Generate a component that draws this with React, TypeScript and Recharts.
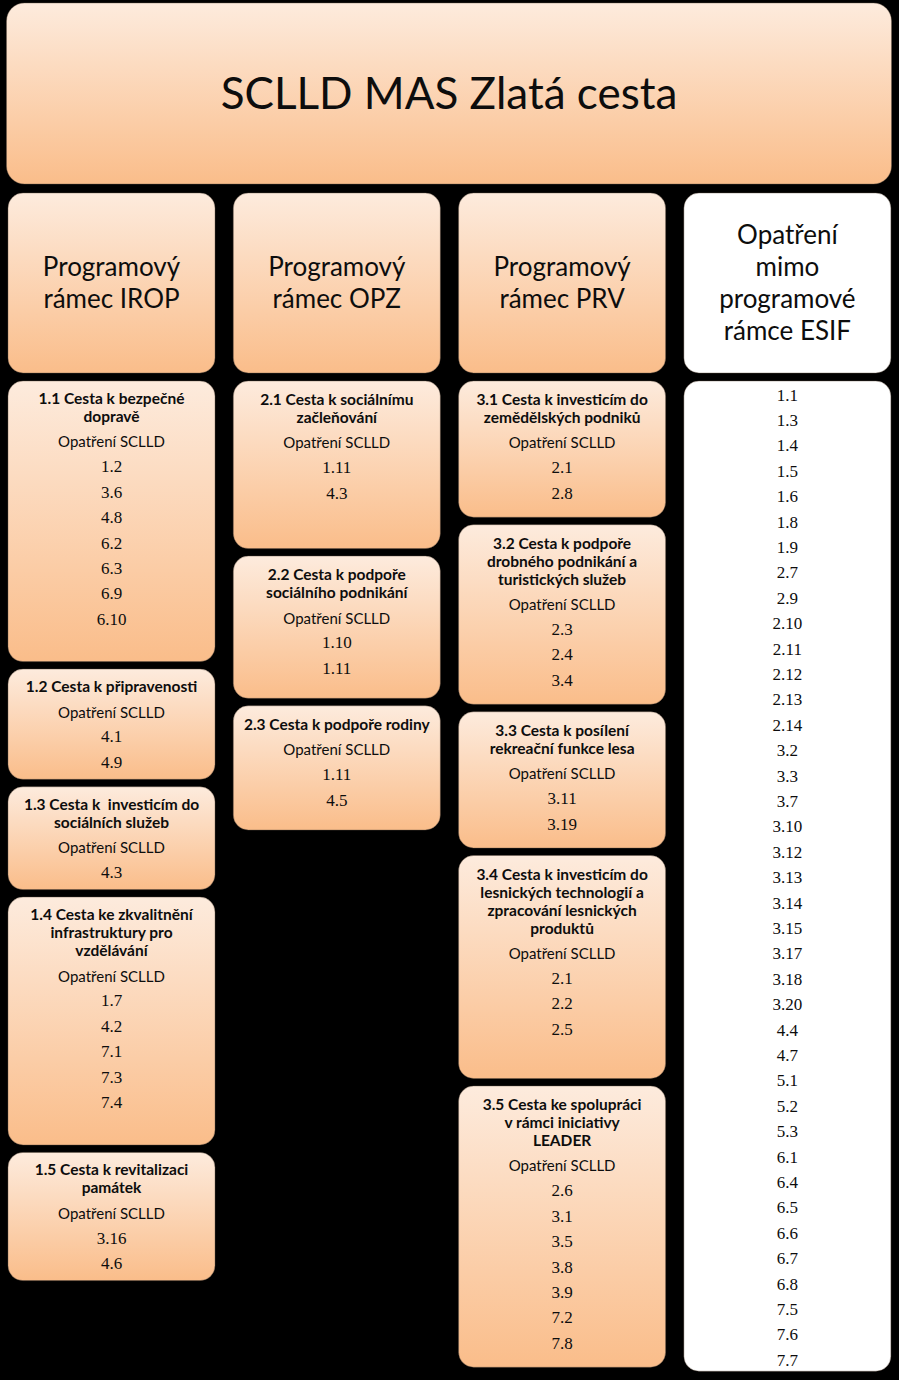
import { ScatterChart, Scatter, XAxis, YAxis } from "recharts";

const W = 899;
const H = 1380;

// --- text content ---
const chartTitle = "SCLLD MAS Zlatá cesta";

const frameworkHeaders = [
  ["Programový", "rámec IROP"],
  ["Programový", "rámec OPZ"],
  ["Programový", "rámec PRV"],
  ["Opatření", "mimo", "programové", "rámce ESIF"],
];

const measureLabel = "Opatření SCLLD";

const iropTitles = [
  ["1.1 Cesta k bezpečné", "dopravě"],
  ["1.2 Cesta k připravenosti"],
  ["1.3 Cesta k  investicím do", "sociálních služeb"],
  ["1.4 Cesta ke zkvalitnění", "infrastruktury pro", "vzdělávání"],
  ["1.5 Cesta k revitalizaci", "památek"],
];
// "" = empty paragraph left in the box
const iropMeasures = [
  ["1.2", "3.6", "4.8", "6.2", "6.3", "6.9", "6.10", ""],
  ["4.1", "4.9"],
  ["4.3"],
  ["1.7", "4.2", "7.1", "7.3", "7.4", ""],
  ["3.16", "4.6"],
];

const opzTitles = [
  ["2.1 Cesta k sociálnímu", "začleňování"],
  ["2.2 Cesta k podpoře", "sociálního podnikání"],
  ["2.3 Cesta k podpoře rodiny"],
];
const opzMeasures = [
  ["1.11", "4.3", ""],
  ["1.10", "1.11"],
  ["1.11", "4.5"],
];

const prvTitles = [
  ["3.1 Cesta k investicím do", "zemědělských podniků"],
  ["3.2 Cesta k podpoře", "drobného podnikání a", "turistických služeb"],
  ["3.3 Cesta k posílení", "rekreační funkce lesa"],
  ["3.4 Cesta k investicím do", "lesnických technologií a", "zpracování lesnických", "produktů"],
  ["3.5 Cesta ke spolupráci", "v rámci iniciativy", "LEADER"],
];
const prvMeasures = [
  ["2.1", "2.8"],
  ["2.3", "2.4", "3.4"],
  ["3.11", "3.19"],
  ["2.1", "2.2", "2.5", ""],
  ["2.6", "3.1", "3.5", "3.8", "3.9", "7.2", "7.8"],
];

const otherMeasures = [
  "1.1", "1.3", "1.4", "1.5", "1.6", "1.8", "1.9", "2.7", "2.9", "2.10",
  "2.11", "2.12", "2.13", "2.14", "3.2", "3.3", "3.7", "3.10", "3.12", "3.13",
  "3.14", "3.15", "3.17", "3.18", "3.20", "4.4", "4.7", "5.1", "5.2", "5.3",
  "6.1", "6.4", "6.5", "6.6", "6.7", "6.8", "7.5", "7.6", "7.7",
];

// --- layout ---
const SANS = "Lato, 'Open Sans', 'DejaVu Sans', sans-serif";
const SERIF = "'Liberation Serif', 'DejaVu Serif', serif";

const COL_LEFT = 8;
const COL_PITCH = 225.3;
const COL_W = 207;
const TITLE_TOP = 3;
const TITLE_H = 181;
const HEAD_TOP = 193;
const HEAD_H = 180;
const LIST_TOP = 381;
const LINE = 25.4;
const TITLE_LINE = 18;
const GAP = 7.5;
// padding above first / below last line, per column
const PAD_TOP = [17, 18, 18];
const PAD_BOTTOM = [17, 30, 24];

type Line = { text: string; y: number; style: string };
type Box = {
  id: string;
  x: number;
  y: number;
  w: number;
  h: number;
  r: number;
  fill: "peach" | "white";
  lines: Line[];
};

const colCenter = (c: number) => COL_LEFT + c * COL_PITCH + COL_W / 2;

function buildColumn(col: number, titles: string[][], measures: string[][]): Box[] {
  let top = LIST_TOP;
  return titles.map((t, i) => {
    const lines: Line[] = [];
    let y = PAD_TOP[col];
    t.forEach((s, k) => {
      if (k > 0) y += TITLE_LINE;
      lines.push({ text: s, y, style: "bold" });
    });
    y += LINE;
    lines.push({ text: measureLabel, y, style: "label" });
    measures[i].forEach((m) => {
      y += LINE;
      lines.push({ text: m, y, style: "num" });
    });
    const h = y + PAD_BOTTOM[col];
    const box: Box = {
      id: `c${col}-${i}`,
      x: colCenter(col),
      y: top + h / 2,
      w: COL_W,
      h,
      r: 15,
      fill: "peach",
      lines,
    };
    top += h + GAP;
    return box;
  });
}

const titleBox: Box = {
  id: "title",
  x: W / 2 - 0.5,
  y: TITLE_TOP + TITLE_H / 2,
  w: 885,
  h: TITLE_H,
  r: 18,
  fill: "peach",
  lines: [{ text: chartTitle, y: TITLE_H / 2 - 2, style: "title" }],
};

const headerBoxes: Box[] = frameworkHeaders.map((hl, c) => {
  const mid = HEAD_H / 2;
  const step = 31.8;
  return {
    id: `h${c}`,
    x: colCenter(c),
    y: HEAD_TOP + HEAD_H / 2,
    w: COL_W,
    h: HEAD_H,
    r: 15,
    fill: c === 3 ? "white" : "peach",
    lines: hl.map((text, k) => ({
      text,
      y: mid - 1 + (k - (hl.length - 1) / 2) * step,
      style: "header",
    })),
  };
});

const listH = 14 + (otherMeasures.length - 1) * LINE + 11;
const listBox: Box = {
  id: "list",
  x: colCenter(3),
  y: LIST_TOP + listH / 2,
  w: COL_W,
  h: listH,
  r: 15,
  fill: "white",
  lines: otherMeasures.map((text, k) => ({ text, y: 14 + k * LINE, style: "num" })),
};

const boxes: Box[] = [
  titleBox,
  ...headerBoxes,
  ...buildColumn(0, iropTitles, iropMeasures),
  ...buildColumn(1, opzTitles, opzMeasures),
  ...buildColumn(2, prvTitles, prvMeasures),
  listBox,
];

const textStyles: Record<string, { size: number; family: string; weight: number }> = {
  title: { size: 44, family: SANS, weight: 400 },
  header: { size: 26, family: SANS, weight: 400 },
  bold: { size: 15.5, family: SANS, weight: 700 },
  label: { size: 15, family: SANS, weight: 400 },
  num: { size: 17, family: SERIF, weight: 400 },
};

const BoxShape = (props: any) => {
  const { cx, cy, payload } = props;
  if (cx == null || !payload) return null;
  const b = payload as Box;
  const x0 = cx - b.w / 2;
  const y0 = cy - b.h / 2;
  const gid = `grad-${b.id}`;
  return (
    <g>
      <defs>
        <linearGradient id={gid} x1="0" y1="0" x2="0" y2="1">
          <stop offset="0%" stopColor="#FDEBDD" />
          <stop offset="100%" stopColor="#FABD8A" />
        </linearGradient>
      </defs>
      <rect
        x={x0}
        y={y0}
        width={b.w}
        height={b.h}
        rx={b.r}
        ry={b.r}
        fill={b.fill === "white" ? "#ffffff" : `url(#${gid})`}
        stroke="#6b5a4a"
        strokeOpacity={0.4}
      />
      {b.lines.map((ln, k) => {
        const s = textStyles[ln.style];
        return (
          <text
            key={k}
            x={cx}
            y={y0 + ln.y}
            textAnchor="middle"
            dominantBaseline="central"
            fontFamily={s.family}
            fontSize={s.size}
            fontWeight={s.weight}
            fill="#0d0d0d"
            style={{ whiteSpace: "pre" }}
          >
            {ln.text}
          </text>
        );
      })}
    </g>
  );
};

export default function App() {
  return (
    <div style={{ position: "absolute", left: 0, top: 0, width: W, height: H, background: "#000" }}>
      <ScatterChart width={W} height={H} margin={{ top: 0, right: 0, bottom: 0, left: 0 }}>
        <XAxis type="number" dataKey="x" domain={[0, W]} allowDataOverflow hide />
        <YAxis type="number" dataKey="y" domain={[0, H]} allowDataOverflow reversed hide />
        <Scatter data={boxes} shape={BoxShape} isAnimationActive={false} />
      </ScatterChart>
    </div>
  );
}
